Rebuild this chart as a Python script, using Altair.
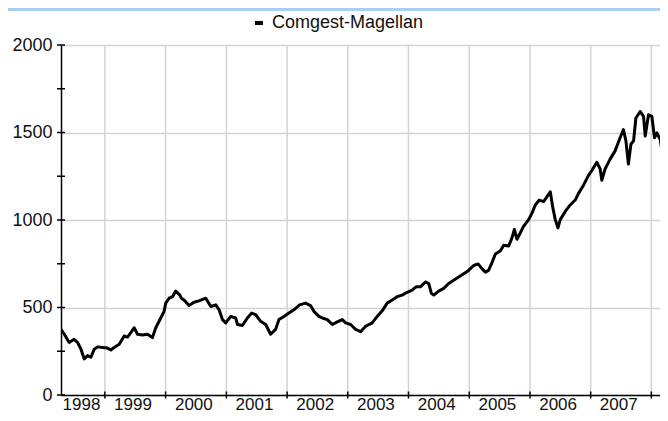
import altair as alt
import pandas as pd

series_name = "Comgest-Magellan"

dates = [
    "1998-04-12", "1998-05-02", "1998-05-31", "1998-06-30", "1998-07-21", "1998-08-10",
    "1998-08-30", "1998-09-19", "1998-10-09", "1998-10-29", "1998-11-18", "1998-12-18",
    "1999-01-17", "1999-02-06", "1999-02-26", "1999-03-28", "1999-04-27", "1999-05-17",
    "1999-06-06", "1999-06-26", "1999-07-16", "1999-08-15", "1999-09-14", "1999-10-14",
    "1999-11-03", "1999-12-03", "1999-12-23",
    "2000-01-02", "2000-01-22", "2000-02-12", "2000-03-02", "2000-03-27", "2000-04-05",
    "2000-04-21", "2000-05-21", "2000-06-20", "2000-07-20", "2000-08-30", "2000-09-29",
    "2000-10-29", "2000-11-18", "2000-12-08", "2000-12-28",
    "2001-01-27", "2001-02-26", "2001-03-08", "2001-04-07", "2001-05-07", "2001-06-02",
    "2001-06-26", "2001-07-26", "2001-08-25", "2001-09-24", "2001-10-24", "2001-11-13",
    "2001-12-13",
    "2002-01-12", "2002-02-11", "2002-03-17", "2002-04-22", "2002-05-22", "2002-06-11",
    "2002-07-11", "2002-08-10", "2002-08-31", "2002-09-30", "2002-10-30", "2002-11-29",
    "2002-12-19",
    "2003-01-18", "2003-02-17", "2003-03-19", "2003-04-18", "2003-05-28", "2003-06-27",
    "2003-07-27", "2003-08-26", "2003-09-25", "2003-10-25", "2003-11-24", "2003-12-24",
    "2004-01-23", "2004-02-16", "2004-03-13", "2004-04-12", "2004-05-02", "2004-05-18",
    "2004-06-01", "2004-07-01", "2004-07-31", "2004-08-30", "2004-09-29", "2004-10-29",
    "2004-11-28", "2004-12-28",
    "2005-01-27", "2005-02-23", "2005-03-19", "2005-04-08", "2005-04-27", "2005-05-18",
    "2005-06-07", "2005-07-07", "2005-07-27", "2005-08-26", "2005-09-15", "2005-09-29",
    "2005-10-15", "2005-11-04", "2005-11-24", "2005-12-24",
    "2006-01-13", "2006-02-02", "2006-02-26", "2006-03-24", "2006-04-13", "2006-05-03",
    "2006-05-17", "2006-06-02", "2006-06-18", "2006-07-02", "2006-08-01", "2006-08-31",
    "2006-09-30", "2006-10-20", "2006-11-19", "2006-12-19",
    "2007-01-08", "2007-02-07", "2007-02-27", "2007-03-09", "2007-03-29", "2007-04-28",
    "2007-05-28", "2007-06-27", "2007-07-17", "2007-08-01", "2007-08-16", "2007-08-31",
    "2007-09-16", "2007-09-30", "2007-10-26", "2007-11-15", "2007-11-25", "2007-12-15",
    "2008-01-04", "2008-01-20", "2008-02-03", "2008-02-23", "2008-03-14", "2008-03-28",
]

values = [
    375, 347, 300, 318, 300, 262,
    206, 225, 216, 262, 275, 272,
    268, 257, 272, 290, 337, 331,
    356, 384, 347, 343, 347, 328,
    384, 440, 478,
    525, 553, 562, 594, 571, 553,
    543, 511, 530, 538, 553, 506,
    515, 487, 431, 412,
    449, 440, 403, 397, 440, 468,
    459, 421, 403, 347, 375, 431,
    449,
    468, 487, 515, 525, 511, 478,
    449, 437, 431, 403, 418, 431,
    412,
    403, 375, 362, 393, 412, 449,
    481, 525, 543, 562, 571, 587,
    599, 618, 618, 646, 637, 581,
    571, 594, 609, 637, 656, 674,
    693, 712,
    740, 749, 721, 702, 712, 758,
    806, 824, 856, 852, 899, 946,
    890, 927, 965, 1002,
    1039, 1086, 1114, 1105, 1133, 1161,
    1077, 1002, 955, 1002, 1049, 1086,
    1114, 1152, 1199, 1255,
    1283, 1330, 1292, 1227, 1292, 1348,
    1395, 1470, 1517, 1452, 1320, 1433,
    1452, 1583, 1620, 1592, 1480, 1601,
    1592, 1470, 1498, 1461, 1339, 1423,
]

year_starts = ["1999-01-01", "2000-01-01", "2001-01-01", "2002-01-01", "2003-01-01",
               "2004-01-01", "2005-01-01", "2006-01-01", "2007-01-01", "2008-01-01"]
label_dates = ["1998-08-10", "1999-06-16", "2000-06-16", "2001-06-16", "2002-06-16",
               "2003-06-16", "2004-06-16", "2005-06-16", "2006-06-16", "2007-06-16"]
y_labels = [0, 500, 1000, 1500, 2000]
y_ticks = [0, 250, 500, 750, 1000, 1250, 1500, 1750, 2000]
x_domain = ["1998-04-12", "2008-02-22"]


def dt(s):
    y, m, d = (int(p) for p in s.split("-"))
    return alt.DateTime(year=y, month=m, date=d, utc=True)


W, H = 599, 350
PAD = {"left": 53, "top": 37, "right": 0, "bottom": 18}
FONT = "Liberation Sans"
TXT = "#111111"
GRID = "#d3d3d3"

x_enc = alt.X(
    "date:T",
    title=None,
    scale=alt.Scale(domain=[dt(x_domain[0]), dt(x_domain[1])]),
    axis=alt.Axis(
        values=[dt(s) for s in label_dates],
        format="%Y",
        ticks=False,
        tickSize=0,
        grid=False,
        domainColor="#000000",
        domainWidth=1.5,
        labelFont=FONT,
        labelFontSize=17,
        labelColor=TXT,
        labelPadding=1,
        labelFlush=False,
        labelOverlap=False,
    ),
)

y_enc = alt.Y(
    "value:Q",
    title=None,
    scale=alt.Scale(domain=[0, 2000], nice=False),
    axis=alt.Axis(
        values=y_labels,
        format="d",
        ticks=False,
        tickSize=0,
        grid=True,
        gridColor=GRID,
        gridWidth=1.5,
        domainColor="#000000",
        domainWidth=1.5,
        labelFont=FONT,
        labelFontSize=18,
        labelColor=TXT,
        labelPadding=9,
    ),
)

line_df = pd.DataFrame({"date": dates, "value": values, "series": series_name})
years_df = pd.DataFrame({"date": year_starts})
yt_df = pd.DataFrame({"value": y_ticks})

vgrid = alt.Chart(years_df).mark_rule(color=GRID, strokeWidth=1.5).encode(
    x=x_enc, y=alt.value(0), y2=alt.value(H)
)

xticks = alt.Chart(years_df).mark_rule(color="#000000", strokeWidth=1.5).encode(
    x=x_enc, y=alt.value(H - 3.5), y2=alt.value(H + 3.5)
)

yticks = alt.Chart(yt_df).mark_rule(color="#000000", strokeWidth=1.5).encode(
    y=y_enc, x=alt.value(-4), x2=alt.value(4)
)

topbar = alt.Chart(yt_df).mark_rule(color="#a9cff0", strokeWidth=3).encode(
    x=alt.value(-PAD["left"]), x2=alt.value(W), y=alt.value(-35.5)
)

line = alt.Chart(line_df).mark_line(strokeWidth=3, strokeJoin="round", clip=True).encode(
    x=x_enc,
    y=y_enc,
    color=alt.Color(
        "series:N",
        scale=alt.Scale(range=["#000000"]),
        legend=alt.Legend(
            title=None,
            orient="none",
            legendX=189,
            legendY=-31,
            symbolType="stroke",
            symbolStrokeWidth=4,
            symbolSize=64,
            labelFont=FONT,
            labelFontSize=18,
            labelColor=TXT,
            labelOffset=4,
            padding=0,
        ),
    ),
)

chart = (
    alt.layer(vgrid, topbar, line, xticks, yticks)
    .properties(
        width=W,
        height=H,
        padding=PAD,
        autosize=alt.AutoSizeParams(type="none"),
    )
    .configure_view(stroke=None)
    .configure(background="white")
)

chart.save("out.html", embed_options={"renderer": "svg", "actions": False})
